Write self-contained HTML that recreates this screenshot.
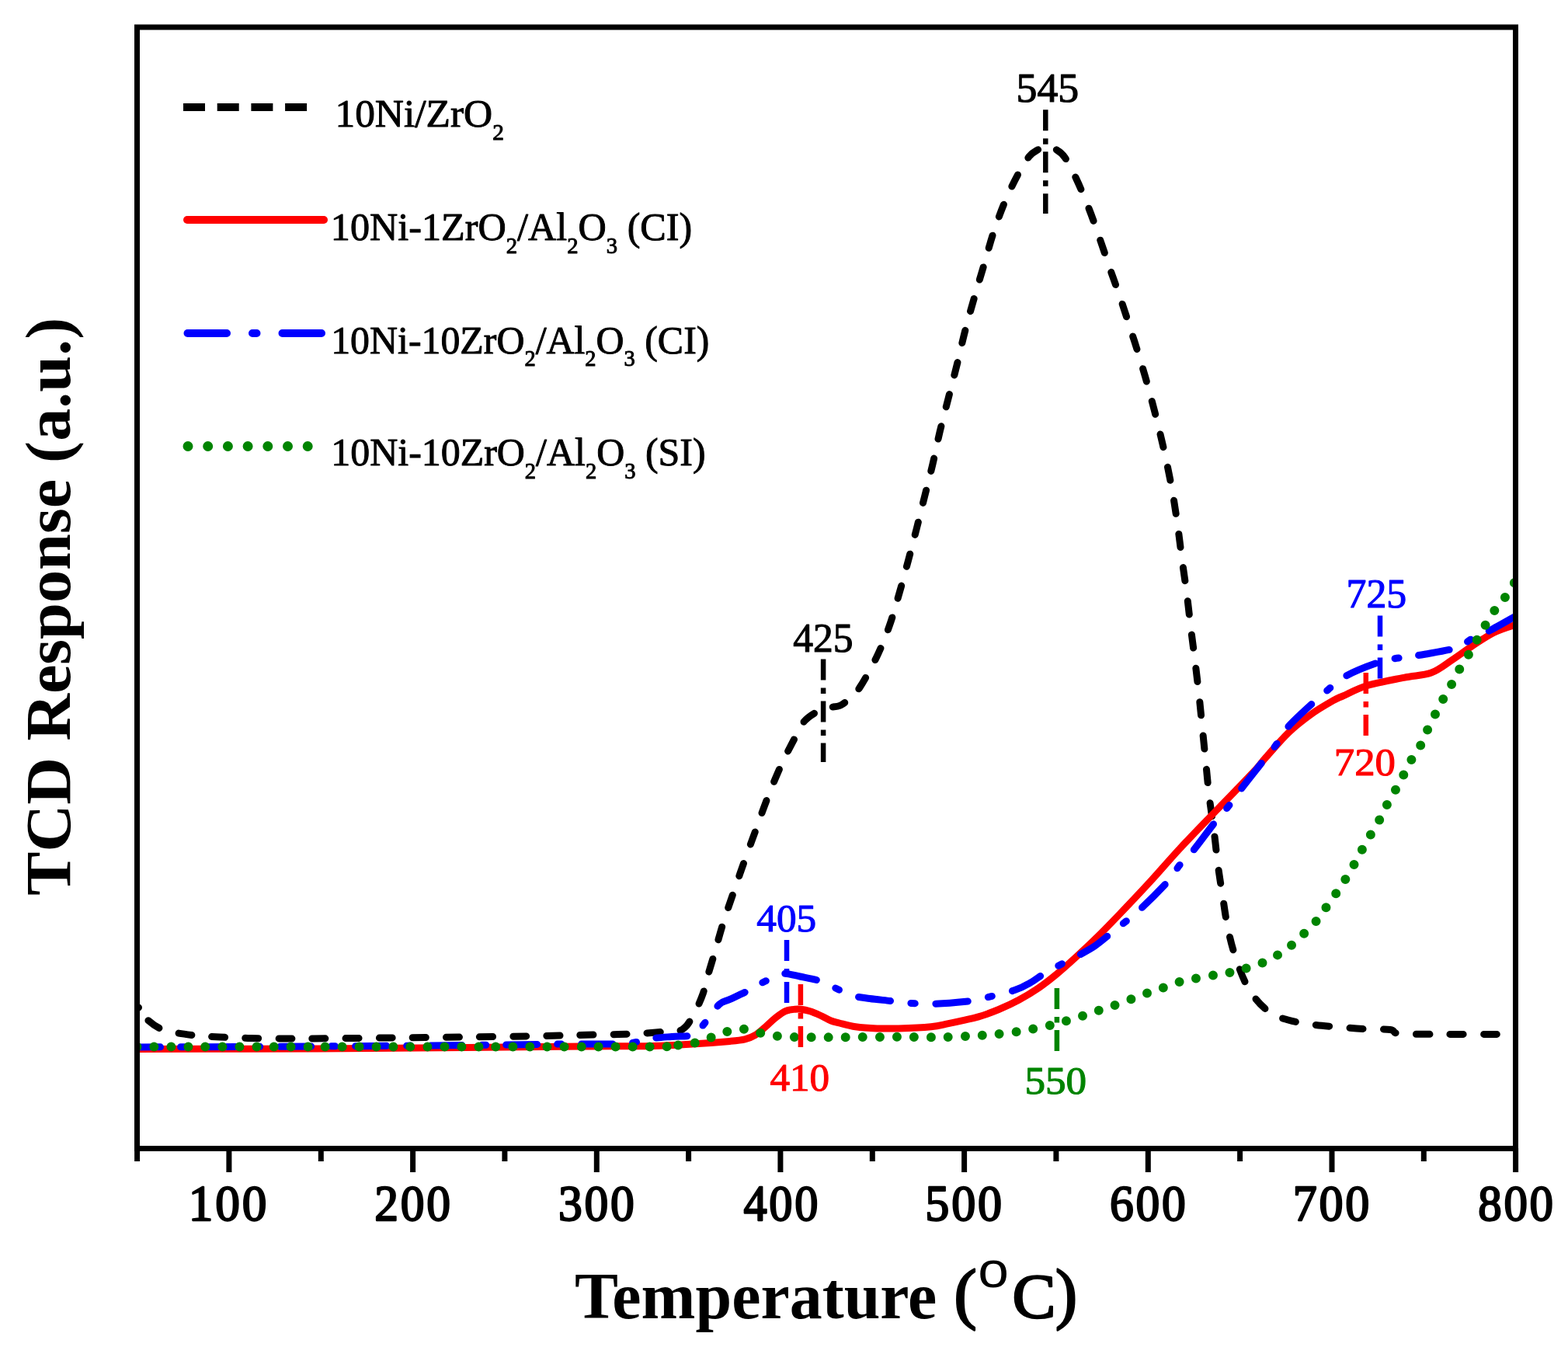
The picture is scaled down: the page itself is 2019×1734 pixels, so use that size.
<!DOCTYPE html><html><head><meta charset="utf-8"><title>TPR profiles</title><style>html,body{margin:0;padding:0;background:#fff;}svg{display:block;}</style></head><body>
<div id="w"><svg width="2019" height="1734" viewBox="0 0 2019 1734">
<rect width="2019" height="1734" fill="#fff"/>
<defs><clipPath id="pa"><rect x="176" y="35" width="1776" height="1444"/></clipPath></defs>
<g clip-path="url(#pa)" fill="none" stroke-width="9">
<path d="M178.50,1297.00 C180.25,1299.50 183.75,1307.25 189.00,1312.00 C194.25,1316.75 200.33,1322.08 210.00,1325.50 C219.67,1328.92 234.83,1330.92 247.00,1332.50 C259.17,1334.08 270.17,1334.33 283.00,1335.00 C295.83,1335.67 310.00,1336.17 324.00,1336.50 C338.00,1336.83 353.67,1336.92 367.00,1337.00 C380.33,1337.08 381.83,1337.17 404.00,1337.00 C426.17,1336.83 467.33,1336.33 500.00,1336.00 C532.67,1335.67 566.67,1335.42 600.00,1335.00 C633.33,1334.58 674.17,1333.97 700.00,1333.50 C725.83,1333.03 739.00,1332.53 755.00,1332.20 C771.00,1331.87 784.00,1331.82 796.00,1331.50 C808.00,1331.18 817.17,1330.85 827.00,1330.30 C836.83,1329.75 847.08,1328.75 855.00,1328.20 C862.92,1327.65 870.00,1327.95 874.50,1327.00 C879.00,1326.05 879.92,1324.25 882.00,1322.50 C884.08,1320.75 884.50,1320.47 887.00,1316.50 C889.50,1312.53 893.93,1305.03 897.00,1298.70 C900.07,1292.37 903.40,1284.28 905.40,1278.50 C907.40,1272.72 906.58,1272.52 909.00,1264.00 C911.42,1255.48 916.22,1239.98 919.90,1227.40 C923.58,1214.82 927.00,1201.60 931.10,1188.50 C935.20,1175.40 939.87,1162.30 944.50,1148.80 C949.13,1135.30 954.03,1121.13 958.90,1107.50 C963.77,1093.87 968.77,1080.50 973.70,1067.00 C978.63,1053.50 983.17,1040.12 988.50,1026.50 C993.83,1012.88 1000.23,997.35 1005.70,985.30 C1011.17,973.25 1016.38,963.58 1021.30,954.20 C1026.22,944.82 1029.87,935.45 1035.20,929.00 C1040.53,922.55 1048.12,918.50 1053.30,915.50 C1058.48,912.50 1061.47,912.25 1066.30,911.00 C1071.13,909.75 1077.35,910.33 1082.30,908.00 C1087.25,905.67 1091.88,900.83 1096.00,897.00 C1100.12,893.17 1101.62,893.37 1107.00,885.00 C1112.38,876.63 1121.97,859.92 1128.30,846.80 C1134.63,833.68 1140.05,820.18 1145.00,806.30 C1149.95,792.42 1153.88,777.75 1158.00,763.50 C1162.12,749.25 1165.95,734.80 1169.70,720.80 C1173.45,706.80 1177.02,693.13 1180.50,679.50 C1183.98,665.87 1187.23,652.48 1190.60,639.00 C1193.97,625.52 1197.45,612.42 1200.70,598.60 C1203.95,584.78 1206.68,570.48 1210.10,556.10 C1213.52,541.72 1217.50,526.78 1221.20,512.30 C1224.90,497.82 1228.67,483.83 1232.30,469.20 C1235.93,454.57 1239.33,438.70 1243.00,424.50 C1246.67,410.30 1250.35,397.75 1254.30,384.00 C1258.25,370.25 1262.53,356.13 1266.70,342.00 C1270.87,327.87 1274.75,312.95 1279.30,299.20 C1283.85,285.45 1288.80,271.87 1294.00,259.50 C1299.20,247.13 1305.30,234.68 1310.50,225.00 C1315.70,215.32 1320.78,206.82 1325.20,201.40 C1329.62,195.98 1333.20,194.77 1337.00,192.50 C1340.80,190.23 1344.33,187.88 1348.00,187.80 C1351.67,187.72 1355.18,189.58 1359.00,192.00 C1362.82,194.42 1366.40,195.88 1370.90,202.30 C1375.40,208.72 1380.73,219.30 1386.00,230.50 C1391.27,241.70 1397.42,256.50 1402.50,269.50 C1407.58,282.50 1412.00,295.63 1416.50,308.50 C1421.00,321.37 1425.08,333.95 1429.50,346.70 C1433.92,359.45 1438.50,371.75 1443.00,385.00 C1447.50,398.25 1452.08,412.45 1456.50,426.20 C1460.92,439.95 1465.42,453.87 1469.50,467.50 C1473.58,481.13 1477.22,494.00 1481.00,508.00 C1484.78,522.00 1488.75,537.38 1492.20,551.50 C1495.65,565.62 1498.70,578.58 1501.70,592.70 C1504.70,606.82 1507.70,621.82 1510.20,636.20 C1512.70,650.58 1514.70,664.75 1516.70,679.00 C1518.70,693.25 1520.28,707.40 1522.20,721.70 C1524.12,736.00 1526.35,750.42 1528.20,764.80 C1530.05,779.18 1531.55,793.68 1533.30,808.00 C1535.05,822.32 1536.93,836.22 1538.70,850.70 C1540.47,865.18 1542.30,880.28 1543.90,894.90 C1545.50,909.52 1546.83,923.85 1548.30,938.40 C1549.77,952.95 1551.22,967.52 1552.70,982.20 C1554.18,996.88 1555.45,1011.87 1557.20,1026.50 C1558.95,1041.13 1561.37,1055.52 1563.20,1070.00 C1565.03,1084.48 1566.37,1099.55 1568.20,1113.40 C1570.03,1127.25 1572.03,1139.35 1574.20,1153.10 C1576.37,1166.85 1578.18,1181.95 1581.20,1195.90 C1584.22,1209.85 1587.60,1223.52 1592.30,1236.80 C1597.00,1250.08 1602.38,1264.58 1609.40,1275.60 C1616.42,1286.62 1626.05,1296.63 1634.40,1302.90 C1642.75,1309.17 1650.38,1310.53 1659.50,1313.20 C1668.62,1315.87 1678.08,1317.38 1689.10,1318.90 C1700.12,1320.42 1714.45,1321.37 1725.60,1322.30 C1736.75,1323.23 1745.27,1323.97 1756.00,1324.50 C1766.73,1325.03 1782.53,1324.50 1790.00,1325.50 C1797.47,1326.50 1791.80,1329.52 1800.80,1330.50 C1809.80,1331.48 1831.85,1331.25 1844.00,1331.40 C1856.15,1331.55 1859.82,1331.40 1873.70,1331.40 C1887.58,1331.40 1918.37,1331.40 1927.30,1331.40" stroke="#000" stroke-linecap="round" stroke-dasharray="0.00 21.06 17.00 26.00 17.00 26.00 17.00 26.01 17.04 26.07 17.04 26.07 17.04 26.07 17.04 26.07 17.04 26.07 17.04 26.07 17.04 26.07 17.04 26.07 17.04 26.07 17.04 26.07 17.04 26.07 17.04 26.07 17.04 26.07 17.04 26.07 17.04 26.07 17.04 26.07 17.04 26.07 17.04 26.07 17.04 26.07 17.04 26.07 17.04 26.07 17.04 26.07 17.04 26.07 17.04 25.84 16.75 25.62 16.75 25.62 16.75 25.62 16.75 25.62 16.75 25.62 16.75 25.62 16.75 25.62 16.75 25.62 16.75 25.62 16.75 25.62 16.75 25.62 16.75 25.62 16.75 25.62 16.75 25.62 16.75 25.62 16.75 25.62 16.75 25.62 16.75 25.62 16.75 25.99 17.23 26.36 17.23 26.36 17.23 26.36 17.23 26.36 17.23 26.36 17.23 26.36 17.23 26.36 17.23 26.36 17.23 26.36 17.23 26.36 17.23 26.36 17.23 26.36 17.23 26.36 17.23 26.36 17.23 26.36 17.23 26.36 17.23 26.36 17.23 26.36 17.23 26.36 17.23 26.36 17.23 26.36 17.23 26.36 17.23 26.36 17.23 26.36 17.23 26.36 17.23 26.36 17.23 26.36 17.23 26.36 17.23 26.36 17.23 26.36 17.23 26.36 17.23 26.36 17.23 26.36 17.23 50.00"/>
<path d="M176.5,1350.5 C213.8,1350.4 329.4,1350.3 400.0,1350.0 C470.6,1349.7 541.7,1349.0 600.0,1348.5 C658.3,1348.0 710.2,1347.3 750.0,1347.0 C789.8,1346.7 815.5,1346.9 839.0,1346.4 C862.5,1345.9 874.2,1345.0 891.0,1344.0 C907.8,1343.0 928.6,1341.4 940.0,1340.4 C951.4,1339.4 953.9,1339.2 959.3,1337.9 C964.7,1336.6 967.9,1335.3 972.2,1332.7 C976.5,1330.1 980.8,1326.1 985.1,1322.4 C989.4,1318.8 993.7,1314.2 998.0,1310.8 C1002.3,1307.4 1006.5,1303.7 1010.8,1301.8 C1015.1,1299.9 1020.3,1299.6 1023.7,1299.2 C1027.1,1298.8 1028.2,1298.8 1031.4,1299.2 C1034.6,1299.6 1038.9,1300.5 1043.0,1301.8 C1047.1,1303.1 1051.4,1305.0 1055.9,1307.0 C1060.4,1309.0 1065.8,1312.3 1070.0,1314.0 C1074.2,1315.7 1075.5,1315.7 1080.8,1317.0 C1086.1,1318.3 1093.5,1320.6 1101.6,1321.8 C1109.7,1323.0 1120.0,1323.6 1129.3,1323.9 C1138.5,1324.2 1145.5,1324.2 1157.1,1323.9 C1168.7,1323.6 1188.2,1322.8 1198.7,1321.8 C1209.2,1320.8 1213.1,1319.3 1220.0,1317.9 C1226.9,1316.5 1233.3,1315.1 1240.0,1313.6 C1246.7,1312.1 1252.3,1311.2 1260.0,1308.9 C1267.7,1306.6 1277.3,1303.1 1286.0,1299.5 C1294.7,1295.9 1303.3,1292.0 1311.9,1287.3 C1320.5,1282.6 1329.8,1277.0 1337.8,1271.5 C1345.8,1266.0 1352.1,1261.0 1360.0,1254.5 C1367.9,1248.0 1376.7,1240.1 1385.0,1232.5 C1393.3,1224.9 1400.8,1218.0 1410.0,1209.0 C1419.2,1200.0 1428.2,1190.8 1440.0,1178.5 C1451.8,1166.2 1467.4,1149.8 1480.7,1135.3 C1494.0,1120.8 1505.8,1106.8 1520.0,1091.5 C1534.2,1076.2 1550.6,1059.5 1566.0,1043.5 C1581.4,1027.5 1601.6,1007.1 1612.3,995.7 C1623.0,984.3 1622.2,983.7 1630.0,975.0 C1637.8,966.3 1649.2,952.6 1658.8,943.4 C1668.4,934.2 1678.1,926.7 1687.7,919.8 C1697.3,912.9 1709.5,905.9 1716.5,901.9 C1723.5,897.9 1722.8,898.8 1730.0,895.6 C1737.2,892.4 1747.0,886.6 1759.9,882.7 C1772.8,878.8 1793.8,875.1 1807.6,872.3 C1821.4,869.5 1832.5,869.9 1842.9,866.1 C1853.3,862.3 1860.9,855.4 1869.9,849.5 C1878.9,843.6 1887.9,836.7 1896.9,830.8 C1905.9,824.9 1914.6,818.7 1923.9,814.2 C1933.2,809.7 1948.2,805.5 1953.0,803.8" stroke="#f00" stroke-linejoin="round"/>
<path d="M176.50,1348.00 C213.75,1347.83 329.42,1347.42 400.00,1347.00 C470.58,1346.58 545.50,1346.00 600.00,1345.50 C654.50,1345.00 696.50,1344.25 727.00,1344.00 C757.50,1343.75 768.83,1344.20 783.00,1344.00 C797.17,1343.80 802.83,1343.97 812.00,1342.80 C821.17,1341.63 829.17,1338.38 838.00,1337.00 C846.83,1335.62 856.05,1335.17 865.00,1334.50 C873.95,1333.83 885.87,1334.42 891.70,1333.00 C897.53,1331.58 896.93,1329.23 900.00,1326.00 C903.07,1322.77 905.73,1319.13 910.10,1313.60 C914.47,1308.07 921.22,1297.33 926.20,1292.80 C931.18,1288.27 933.40,1289.52 940.00,1286.40 C946.60,1283.28 958.28,1277.97 965.80,1274.10 C973.32,1270.23 978.35,1266.42 985.10,1263.20 C991.85,1259.98 1001.65,1256.42 1006.30,1254.80 C1010.95,1253.18 1009.05,1253.13 1013.00,1253.50 C1016.95,1253.87 1023.07,1255.50 1030.00,1257.00 C1036.93,1258.50 1047.00,1260.02 1054.60,1262.50 C1062.20,1264.98 1068.47,1268.72 1075.60,1271.90 C1082.73,1275.08 1090.00,1279.33 1097.40,1281.60 C1104.80,1283.87 1111.78,1284.35 1120.00,1285.50 C1128.22,1286.65 1139.93,1287.65 1146.70,1288.50 C1153.47,1289.35 1151.72,1289.97 1160.60,1290.60 C1169.48,1291.23 1186.13,1292.53 1200.00,1292.30 C1213.87,1292.07 1233.10,1290.33 1243.80,1289.20 C1254.50,1288.07 1253.72,1287.93 1264.20,1285.50 C1274.68,1283.07 1296.23,1278.05 1306.70,1274.60 C1317.17,1271.15 1320.37,1268.57 1327.00,1264.80 C1333.63,1261.03 1339.83,1255.97 1346.50,1252.00 C1353.17,1248.03 1359.88,1244.73 1367.00,1241.00 C1374.12,1237.27 1382.13,1233.43 1389.20,1229.60 C1396.27,1225.77 1402.85,1222.43 1409.40,1218.00 C1415.95,1213.57 1423.40,1207.03 1428.50,1203.00 C1433.60,1198.97 1433.47,1199.13 1440.00,1193.80 C1446.53,1188.47 1456.93,1181.00 1467.70,1171.00 C1478.47,1161.00 1496.13,1143.27 1504.60,1133.80 C1513.07,1124.33 1513.05,1120.87 1518.50,1114.20 C1523.95,1107.53 1529.75,1102.97 1537.30,1093.80 C1544.85,1084.63 1556.30,1068.62 1563.80,1059.20 C1571.30,1049.78 1576.53,1044.62 1582.30,1037.30 C1588.07,1029.98 1591.48,1024.35 1598.40,1015.30 C1605.32,1006.25 1616.48,992.22 1623.80,983.00 C1631.12,973.78 1636.53,967.87 1642.30,960.00 C1648.07,952.13 1650.53,944.83 1658.40,935.80 C1666.27,926.77 1680.90,913.78 1689.50,905.80 C1698.10,897.82 1702.77,893.83 1710.00,887.90 C1717.23,881.97 1721.48,876.25 1732.90,870.20 C1744.32,864.15 1765.02,855.75 1778.50,851.60 C1791.98,847.45 1804.45,846.87 1813.80,845.30 C1823.15,843.73 1824.22,844.10 1834.60,842.20 C1844.98,840.30 1866.07,837.18 1876.10,833.90 C1886.13,830.62 1887.88,826.13 1894.80,822.50 C1901.72,818.87 1907.90,817.12 1917.60,812.10 C1927.30,807.08 1947.10,795.68 1953.00,792.40" stroke="#00f" stroke-linecap="round" stroke-dasharray="30.12 26.00 5.00 26.00 40.00 26.00 5.00 26.00 40.00 26.00 5.00 26.00 40.00 26.00 5.00 26.00 40.00 26.00 5.00 26.00 40.00 26.00 5.00 26.00 40.00 26.00 5.00 26.00 40.00 26.00 5.00 26.00 40.00 26.00 5.00 26.14 41.25 26.81 5.16 26.81 41.25 26.81 5.16 26.81 41.25 26.81 5.16 26.81 41.25 26.81 5.16 26.81 41.25 26.81 5.16 26.81 41.25 26.81 5.16 26.81 41.25 26.81 5.16 26.81 41.25 26.81 5.16 26.81 41.25 26.81 5.16 26.67 40.00 26.00 5.00 26.00 40.00 26.00 5.00 26.00 40.00 51.22"/>
<path d="M176.5,1347.5 C213.8,1347.5 329.4,1347.5 400.0,1347.5 C470.6,1347.5 526.2,1347.6 600.0,1347.6 C673.8,1347.6 798.7,1347.7 843.0,1347.4 C887.3,1347.1 859.0,1346.5 866.0,1346.0 C873.0,1345.5 878.3,1345.6 885.0,1344.5 C891.7,1343.4 899.3,1341.3 906.0,1339.2 C912.7,1337.1 918.0,1334.4 925.0,1332.0 C932.0,1329.6 940.6,1326.0 947.7,1325.0 C954.8,1324.0 961.1,1325.1 967.7,1326.3 C974.4,1327.5 980.1,1330.7 987.6,1332.1 C995.1,1333.5 1004.3,1334.2 1012.8,1334.7 C1021.3,1335.2 1026.1,1335.2 1038.5,1335.3 C1050.9,1335.4 1068.0,1335.4 1087.0,1335.3 C1106.0,1335.2 1133.9,1334.8 1152.4,1334.8 C1170.9,1334.8 1186.0,1335.3 1198.0,1335.3 C1210.0,1335.3 1215.7,1335.1 1224.2,1334.8 C1232.7,1334.5 1241.6,1334.1 1249.2,1333.7 C1256.8,1333.3 1263.1,1333.0 1269.7,1332.5 C1276.3,1332.0 1282.2,1331.5 1289.1,1330.7 C1295.9,1330.0 1304.0,1329.0 1310.8,1328.0 C1317.6,1327.0 1323.5,1325.8 1330.1,1324.5 C1336.7,1323.2 1344.1,1321.9 1350.6,1320.4 C1357.1,1318.9 1362.6,1317.2 1368.9,1315.4 C1375.2,1313.6 1382.0,1311.7 1388.2,1309.7 C1394.5,1307.7 1400.1,1305.5 1406.4,1303.4 C1412.7,1301.3 1420.3,1299.0 1425.8,1297.2 C1431.3,1295.4 1434.2,1294.5 1439.5,1292.6 C1444.8,1290.7 1451.6,1288.1 1457.7,1285.8 C1463.8,1283.5 1469.8,1281.2 1475.9,1279.0 C1482.0,1276.8 1488.1,1275.0 1494.2,1272.8 C1500.3,1270.6 1506.5,1267.9 1512.4,1266.0 C1518.3,1264.1 1522.8,1262.9 1529.5,1261.4 C1536.2,1260.0 1545.2,1258.6 1552.4,1257.3 C1559.6,1256.0 1566.5,1254.6 1572.9,1253.5 C1579.4,1252.4 1585.0,1252.0 1591.1,1250.5 C1597.2,1249.0 1603.3,1246.8 1609.4,1244.8 C1615.5,1242.8 1621.5,1241.3 1627.6,1238.7 C1633.7,1236.1 1639.8,1232.6 1645.8,1228.9 C1651.8,1225.2 1657.8,1221.0 1663.6,1216.3 C1669.4,1211.5 1675.1,1205.7 1680.5,1200.4 C1685.9,1195.1 1691.2,1190.2 1696.0,1184.4 C1700.8,1178.6 1704.9,1171.9 1709.2,1165.7 C1713.5,1159.5 1718.0,1153.6 1722.1,1147.5 C1726.2,1141.4 1730.2,1135.5 1734.0,1129.3 C1737.8,1123.1 1741.5,1116.6 1744.9,1110.4 C1748.4,1104.2 1751.2,1098.5 1754.7,1092.2 C1758.2,1085.9 1762.1,1079.3 1765.9,1072.8 C1769.7,1066.3 1774.0,1059.6 1777.5,1053.2 C1781.0,1046.8 1783.3,1040.8 1786.8,1034.3 C1790.3,1027.8 1794.7,1020.9 1798.3,1014.5 C1801.9,1008.1 1804.8,1002.4 1808.2,995.8 C1811.7,989.2 1815.2,981.7 1819.0,975.1 C1822.8,968.5 1827.4,963.1 1830.9,956.4 C1834.4,949.6 1836.8,941.9 1840.2,934.6 C1843.7,927.3 1847.9,919.9 1851.6,912.8 C1855.3,905.7 1859.0,898.4 1862.6,892.0 C1866.2,885.6 1869.6,880.6 1873.0,874.4 C1876.4,868.2 1879.2,860.9 1882.8,854.7 C1886.4,848.5 1891.2,842.9 1894.8,837.0 C1898.3,831.1 1900.8,825.3 1904.1,819.4 C1907.4,813.5 1910.7,807.9 1914.5,801.7 C1918.3,795.5 1922.8,787.9 1927.0,782.0 C1931.2,776.1 1935.6,772.6 1939.9,766.4 C1944.2,760.2 1950.8,748.6 1953.0,745.0" stroke="#008400" stroke-width="12" stroke-dasharray="0 22" stroke-linecap="round"/>
</g>
<g fill="none" stroke-width="6.5">
<line x1="1346.3" y1="141.3" x2="1346.3" y2="275.0" stroke="#000" stroke-dasharray="27 10 7.5 9.5"/>
<line x1="1060.1" y1="848.6" x2="1060.1" y2="981.0" stroke="#000" stroke-dasharray="27 10 7.5 9.5"/>
<line x1="1013.0" y1="1210.0" x2="1013.0" y2="1291.5" stroke="#00f" stroke-dasharray="27 10 7.5 9.5"/>
<line x1="1030.9" y1="1267.0" x2="1030.9" y2="1349.5" stroke="#f00" stroke-dasharray="27 10 7.5 9.5"/>
<line x1="1777.0" y1="792.4" x2="1777.0" y2="874.0" stroke="#00f" stroke-dasharray="27 10 7.5 9.5"/>
<line x1="1758.8" y1="866.0" x2="1758.8" y2="947.5" stroke="#f00" stroke-dasharray="27 10 7.5 9.5"/>
<line x1="1360.9" y1="1272.0" x2="1360.9" y2="1353.0" stroke="#008400" stroke-dasharray="27 10 7.5 9.5"/>
</g>
<g stroke="#000" stroke-width="7" fill="none">
<rect x="176.5" y="35" width="1775" height="1443.5"/>
<line x1="294.9" y1="1478" x2="294.9" y2="1509"/>
<line x1="531.6" y1="1478" x2="531.6" y2="1509"/>
<line x1="768.3" y1="1478" x2="768.3" y2="1509"/>
<line x1="1004.9" y1="1478" x2="1004.9" y2="1509"/>
<line x1="1241.6" y1="1478" x2="1241.6" y2="1509"/>
<line x1="1478.3" y1="1478" x2="1478.3" y2="1509"/>
<line x1="1715.0" y1="1478" x2="1715.0" y2="1509"/>
<line x1="1951.6" y1="1478" x2="1951.6" y2="1509"/>
<line x1="176.6" y1="1478" x2="176.6" y2="1495"/>
<line x1="413.3" y1="1478" x2="413.3" y2="1495"/>
<line x1="649.9" y1="1478" x2="649.9" y2="1495"/>
<line x1="886.6" y1="1478" x2="886.6" y2="1495"/>
<line x1="1123.3" y1="1478" x2="1123.3" y2="1495"/>
<line x1="1359.9" y1="1478" x2="1359.9" y2="1495"/>
<line x1="1596.6" y1="1478" x2="1596.6" y2="1495"/>
<line x1="1833.3" y1="1478" x2="1833.3" y2="1495"/>
</g>
<g fill="none">
<line x1="236" y1="138" x2="396" y2="138" stroke="#000" stroke-width="10" stroke-dasharray="28 15.7"/>
<line x1="241" y1="283" x2="417" y2="283" stroke="#f00" stroke-width="10" stroke-linecap="round"/>
<line x1="241.5" y1="429" x2="414" y2="429" stroke="#00f" stroke-width="10" stroke-linecap="round" stroke-dasharray="50.5 33 5.5 33"/>
<line x1="242" y1="574.5" x2="397" y2="574.5" stroke="#008400" stroke-width="13" stroke-linecap="round" stroke-dasharray="0 25.7"/>
</g>
<g transform="translate(431.45,163.40) scale(1.0119,1)"><text x="0" y="0" font-family="'Liberation Serif', serif" font-size="50.8" font-weight="normal" fill="#000" stroke="#000" stroke-width="1.0" stroke-linejoin="round">10Ni/ZrO<tspan font-size="29" dy="16.5">2</tspan><tspan dy="-16.5"></tspan></text></g>
<g transform="translate(425.85,309.00) scale(0.9882,1)"><text x="0" y="0" font-family="'Liberation Serif', serif" font-size="50.8" font-weight="normal" fill="#000" stroke="#000" stroke-width="1.0" stroke-linejoin="round">10Ni-1ZrO<tspan font-size="29" dy="16.5">2</tspan><tspan dy="-16.5">/Al</tspan><tspan font-size="29" dy="16.5">2</tspan><tspan dy="-16.5">O</tspan><tspan font-size="29" dy="16.5">3</tspan><tspan dy="-16.5"> (CI)</tspan></text></g>
<g transform="translate(426.17,454.80) scale(0.9815,1)"><text x="0" y="0" font-family="'Liberation Serif', serif" font-size="50.8" font-weight="normal" fill="#000" stroke="#000" stroke-width="1.0" stroke-linejoin="round">10Ni-10ZrO<tspan font-size="29" dy="16.5">2</tspan><tspan dy="-16.5">/Al</tspan><tspan font-size="29" dy="16.5">2</tspan><tspan dy="-16.5">O</tspan><tspan font-size="29" dy="16.5">3</tspan><tspan dy="-16.5"> (CI)</tspan></text></g>
<g transform="translate(426.27,599.30) scale(0.9831,1)"><text x="0" y="0" font-family="'Liberation Serif', serif" font-size="50.8" font-weight="normal" fill="#000" stroke="#000" stroke-width="1.0" stroke-linejoin="round">10Ni-10ZrO<tspan font-size="29" dy="16.5">2</tspan><tspan dy="-16.5">/Al</tspan><tspan font-size="29" dy="16.5">2</tspan><tspan dy="-16.5">O</tspan><tspan font-size="29" dy="16.5">3</tspan><tspan dy="-16.5"> (SI)</tspan></text></g>
<g transform="translate(242.78,1571.08) scale(0.9314,0.9583)"><text x="0" y="0" font-family="'Liberation Serif', serif" font-size="68" font-weight="normal" fill="#000" letter-spacing="3" stroke="#000" stroke-width="2.4" stroke-linejoin="round">100</text></g>
<g transform="translate(482.30,1571.08) scale(0.9048,0.9583)"><text x="0" y="0" font-family="'Liberation Serif', serif" font-size="68" font-weight="normal" fill="#000" letter-spacing="3" stroke="#000" stroke-width="2.4" stroke-linejoin="round">200</text></g>
<g transform="translate(718.97,1571.08) scale(0.9048,0.9583)"><text x="0" y="0" font-family="'Liberation Serif', serif" font-size="68" font-weight="normal" fill="#000" letter-spacing="3" stroke="#000" stroke-width="2.4" stroke-linejoin="round">300</text></g>
<g transform="translate(957.44,1571.08) scale(0.8879,0.9583)"><text x="0" y="0" font-family="'Liberation Serif', serif" font-size="68" font-weight="normal" fill="#000" letter-spacing="3" stroke="#000" stroke-width="2.4" stroke-linejoin="round">400</text></g>
<g transform="translate(1191.37,1571.08) scale(0.9135,0.9583)"><text x="0" y="0" font-family="'Liberation Serif', serif" font-size="68" font-weight="normal" fill="#000" letter-spacing="3" stroke="#000" stroke-width="2.4" stroke-linejoin="round">500</text></g>
<g transform="translate(1428.98,1571.08) scale(0.9048,0.9583)"><text x="0" y="0" font-family="'Liberation Serif', serif" font-size="68" font-weight="normal" fill="#000" letter-spacing="3" stroke="#000" stroke-width="2.4" stroke-linejoin="round">600</text></g>
<g transform="translate(1664.71,1571.08) scale(0.9135,0.9583)"><text x="0" y="0" font-family="'Liberation Serif', serif" font-size="68" font-weight="normal" fill="#000" letter-spacing="3" stroke="#000" stroke-width="2.4" stroke-linejoin="round">700</text></g>
<g transform="translate(1903.23,1571.08) scale(0.8962,0.9583)"><text x="0" y="0" font-family="'Liberation Serif', serif" font-size="68" font-weight="normal" fill="#000" letter-spacing="3" stroke="#000" stroke-width="2.4" stroke-linejoin="round">800</text></g>
<g transform="translate(740.01,1697.00) scale(0.9948,1)"><text x="0" y="0" font-family="'Liberation Serif', serif" font-size="84.4" font-weight="bold" fill="#000">Temperature</text></g>
<g transform="translate(1228.52,1694.49) scale(1.0400,1.0266)"><text x="0" y="0" font-family="'Liberation Serif', serif" font-size="84" font-weight="normal" fill="#000" stroke="#000" stroke-width="2.5" stroke-linejoin="round">(</text></g>
<g transform="translate(1259.23,1656.80) scale(1.1893,1.0742)"><text x="0" y="0" font-family="'Liberation Sans', sans-serif" font-size="60" font-weight="normal" fill="#000">o</text></g>
<g transform="translate(1303.50,1696.43) scale(0.9980,0.9695)"><text x="0" y="0" font-family="'Liberation Serif', serif" font-size="84" font-weight="normal" fill="#000" stroke="#000" stroke-width="2.5" stroke-linejoin="round">C</text></g>
<g transform="translate(1359.00,1694.49) scale(1.0000,1.0266)"><text x="0" y="0" font-family="'Liberation Serif', serif" font-size="84" font-weight="normal" fill="#000" stroke="#000" stroke-width="2.5" stroke-linejoin="round">)</text></g>
<g transform="translate(90.40,1152.71) rotate(-90) scale(1.0123,1)"><text x="0" y="0" font-family="'Liberation Serif', serif" font-size="83.2" font-weight="bold" fill="#000">TCD Response (a.u.)</text></g>
<g transform="translate(1308.51,131.13) scale(0.9961,0.9676)"><text x="0" y="0" font-family="'Liberation Serif', serif" font-size="54" font-weight="normal" fill="#000" stroke="#000" stroke-width="1.2" stroke-linejoin="round">545</text></g>
<g transform="translate(1021.30,839.03) scale(0.9544,0.9730)"><text x="0" y="0" font-family="'Liberation Serif', serif" font-size="54" font-weight="normal" fill="#000" stroke="#000" stroke-width="1.2" stroke-linejoin="round">425</text></g>
<g transform="translate(974.30,1198.65) scale(0.9494,0.9541)"><text x="0" y="0" font-family="'Liberation Serif', serif" font-size="54" font-weight="normal" fill="#00f" stroke="#00f" stroke-width="1.2" stroke-linejoin="round">405</text></g>
<g transform="translate(991.40,1404.27) scale(0.9475,0.9289)"><text x="0" y="0" font-family="'Liberation Serif', serif" font-size="54" font-weight="normal" fill="#f00" stroke="#f00" stroke-width="1.2" stroke-linejoin="round">410</text></g>
<g transform="translate(1733.52,782.34) scale(0.9592,0.9595)"><text x="0" y="0" font-family="'Liberation Serif', serif" font-size="54" font-weight="normal" fill="#00f" stroke="#00f" stroke-width="1.2" stroke-linejoin="round">725</text></g>
<g transform="translate(1717.77,997.76) scale(0.9766,0.9395)"><text x="0" y="0" font-family="'Liberation Serif', serif" font-size="54" font-weight="normal" fill="#f00" stroke="#f00" stroke-width="1.2" stroke-linejoin="round">720</text></g>
<g transform="translate(1319.45,1407.66) scale(0.9844,0.9421)"><text x="0" y="0" font-family="'Liberation Serif', serif" font-size="54" font-weight="normal" fill="#008400" stroke="#008400" stroke-width="1.2" stroke-linejoin="round">550</text></g>
</svg></div></body></html>
